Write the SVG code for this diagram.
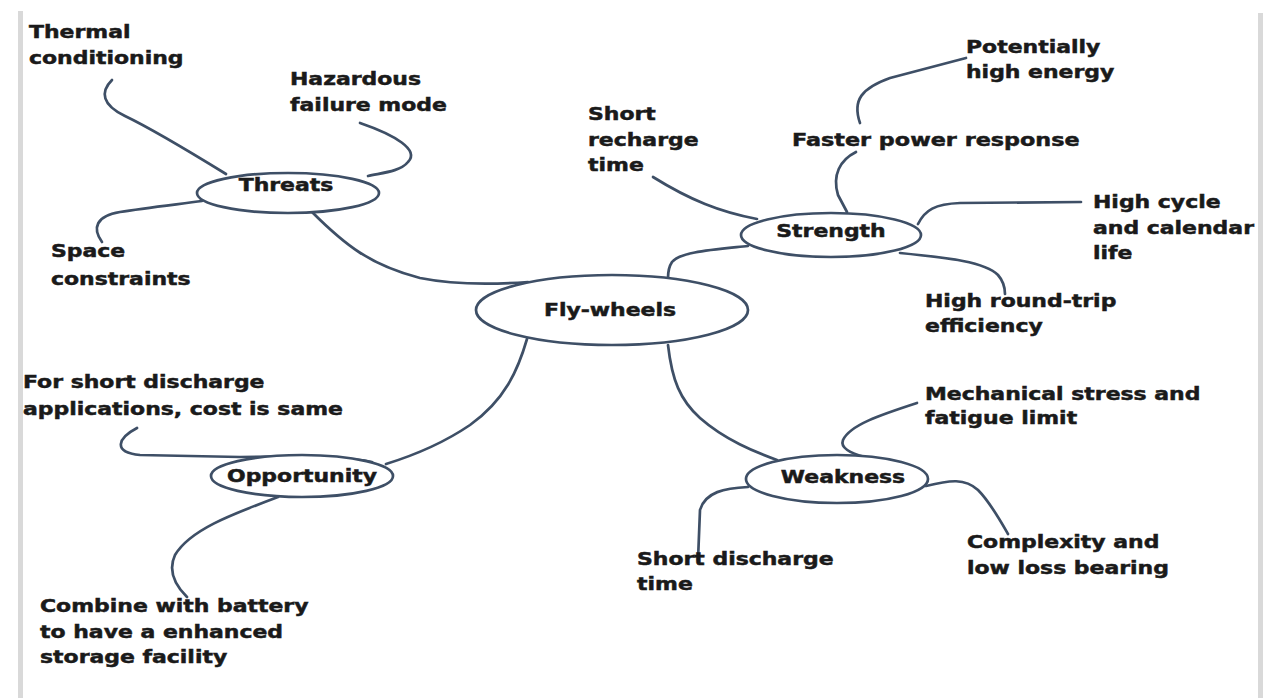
<svg xmlns="http://www.w3.org/2000/svg" width="1267" height="698" viewBox="0 0 1267 698">
<style>
.bg{fill:#ffffff}
.bar{fill:#d9d9d9}
.ln{fill:none;stroke:#3e4f66;stroke-width:2.7;stroke-linecap:round;stroke-linejoin:round}
.nd{fill:#ffffff;stroke:#3e4f66;stroke-width:2.7}
.t{font-family:"DejaVu Sans","Liberation Sans",sans-serif;font-weight:bold;font-size:18px;fill:#1a1a1a;stroke:#1a1a1a;stroke-width:0.5}
.c{text-anchor:middle}
</style>
<rect class="bg" x="0" y="0" width="1267" height="698"/>
<rect class="bar" x="18" y="11" width="5" height="687"/>
<rect class="bar" x="1258" y="13" width="5" height="685"/>

<g id="connectors">
  <path class="ln" d="M112 80 C100 92 102 105 125 116 S200 158 226 174"/>
  <path class="ln" d="M360 123 C395 135 420 150 408 162 C400 172 380 173 368 176"/>
  <path class="ln" d="M102 242 C92 228 96 216 120 212 S180 204 202 201"/>
  <path class="ln" d="M312 212 C345 245 370 265 420 278 C460 286 500 284 528 282"/>
  <path class="ln" d="M653 177 C690 200 720 212 757 219"/>
  <path class="ln" d="M856 152 C840 160 832 175 838 195 L847 212"/>
  <path class="ln" d="M860 123 C852 100 862 88 890 78 L966 58"/>
  <path class="ln" d="M918 224 C925 210 935 204 960 203 L1081 202"/>
  <path class="ln" d="M900 253 C950 258 985 262 998 275 C1005 283 1005 290 1005 294"/>
  <path class="ln" d="M748 246 C710 250 680 252 672 262 C668 268 668 273 668 278"/>
  <path class="ln" d="M527 339 C518 370 505 400 470 425 C445 442 415 455 386 464"/>
  <path class="ln" d="M137 428 C118 438 112 452 140 455 L240 457 C300 456 350 458 372 462"/>
  <path class="ln" d="M278 497 C230 515 190 530 175 555 C168 570 175 585 187 597"/>
  <path class="ln" d="M668 345 C672 380 680 400 700 418 C725 440 755 452 777 460"/>
  <path class="ln" d="M917 403 C880 415 850 425 843 440 C840 448 850 453 865 457"/>
  <path class="ln" d="M748 487 C725 488 705 492 700 510 L698 560"/>
  <path class="ln" d="M926 486 C950 480 965 478 978 490 C990 502 1000 520 1008 534"/>
</g>

<g id="flywheels">
  <ellipse class="nd" cx="612" cy="310" rx="136" ry="35"/>
  <text class="t c" transform="translate(610,316) scale(1.22,1)">Fly-wheels</text>
</g>
<g id="threats">
  <ellipse class="nd" cx="288" cy="193" rx="91" ry="20"/>
  <text class="t c" transform="translate(286,191) scale(1.22,1)">Threats</text>
</g>
<g id="strength">
  <ellipse class="nd" cx="831" cy="235" rx="90" ry="22"/>
  <text class="t c" transform="translate(831,237) scale(1.22,1)">Strength</text>
</g>
<g id="opportunity">
  <ellipse class="nd" cx="302" cy="476" rx="91" ry="21"/>
  <text class="t c" transform="translate(302,482) scale(1.22,1)">Opportunity</text>
</g>
<g id="weakness">
  <ellipse class="nd" cx="837" cy="479" rx="91" ry="24"/>
  <text class="t c" transform="translate(843,483) scale(1.22,1)">Weakness</text>
</g>

<g id="thermal">
  <text class="t" transform="translate(29,38) scale(1.22,1)"><tspan x="0" y="0">Thermal</tspan><tspan x="0" y="26">conditioning</tspan></text>
</g>
<g id="hazardous">
  <text class="t" transform="translate(290,85) scale(1.22,1)"><tspan x="0" y="0">Hazardous</tspan><tspan x="0" y="26">failure mode</tspan></text>
</g>
<g id="space">
  <text class="t" transform="translate(51,257) scale(1.22,1)"><tspan x="0" y="0">Space</tspan><tspan x="0" y="28">constraints</tspan></text>
</g>
<g id="potentially">
  <text class="t" transform="translate(966,53) scale(1.22,1)"><tspan x="0" y="0">Potentially</tspan><tspan x="0" y="25">high energy</tspan></text>
</g>
<g id="recharge">
  <text class="t" transform="translate(588,120) scale(1.22,1)"><tspan x="0" y="0">Short</tspan><tspan x="0" y="26">recharge</tspan><tspan x="0" y="51">time</tspan></text>
</g>
<g id="faster">
  <text class="t" transform="translate(792,146) scale(1.24,1)">Faster power response</text>
</g>
<g id="cycle">
  <text class="t" transform="translate(1093,208) scale(1.22,1)"><tspan x="0" y="0">High cycle</tspan><tspan x="0" y="26">and calendar</tspan><tspan x="0" y="51">life</tspan></text>
</g>
<g id="roundtrip">
  <text class="t" transform="translate(925,307) scale(1.22,1)"><tspan x="0" y="0">High round-trip</tspan><tspan x="0" y="25">efficiency</tspan></text>
</g>
<g id="forshort">
  <text class="t" transform="translate(23,388) scale(1.22,1)"><tspan x="0" y="0">For short discharge</tspan><tspan x="0" y="27">applications, cost is same</tspan></text>
</g>
<g id="combine">
  <text class="t" transform="translate(40,612) scale(1.22,1)"><tspan x="0" y="0">Combine with battery</tspan><tspan x="0" y="26">to have a enhanced</tspan><tspan x="0" y="51">storage facility</tspan></text>
</g>
<g id="mechanical">
  <text class="t" transform="translate(925,400) scale(1.22,1)"><tspan x="0" y="0">Mechanical stress and</tspan><tspan x="0" y="24">fatigue limit</tspan></text>
</g>
<g id="discharge">
  <text class="t" transform="translate(637,565) scale(1.22,1)"><tspan x="0" y="0">Short discharge</tspan><tspan x="0" y="25">time</tspan></text>
</g>
<g id="complexity">
  <text class="t" transform="translate(967,548) scale(1.22,1)"><tspan x="0" y="0">Complexity and</tspan><tspan x="0" y="26">low loss bearing</tspan></text>
</g>
</svg>
